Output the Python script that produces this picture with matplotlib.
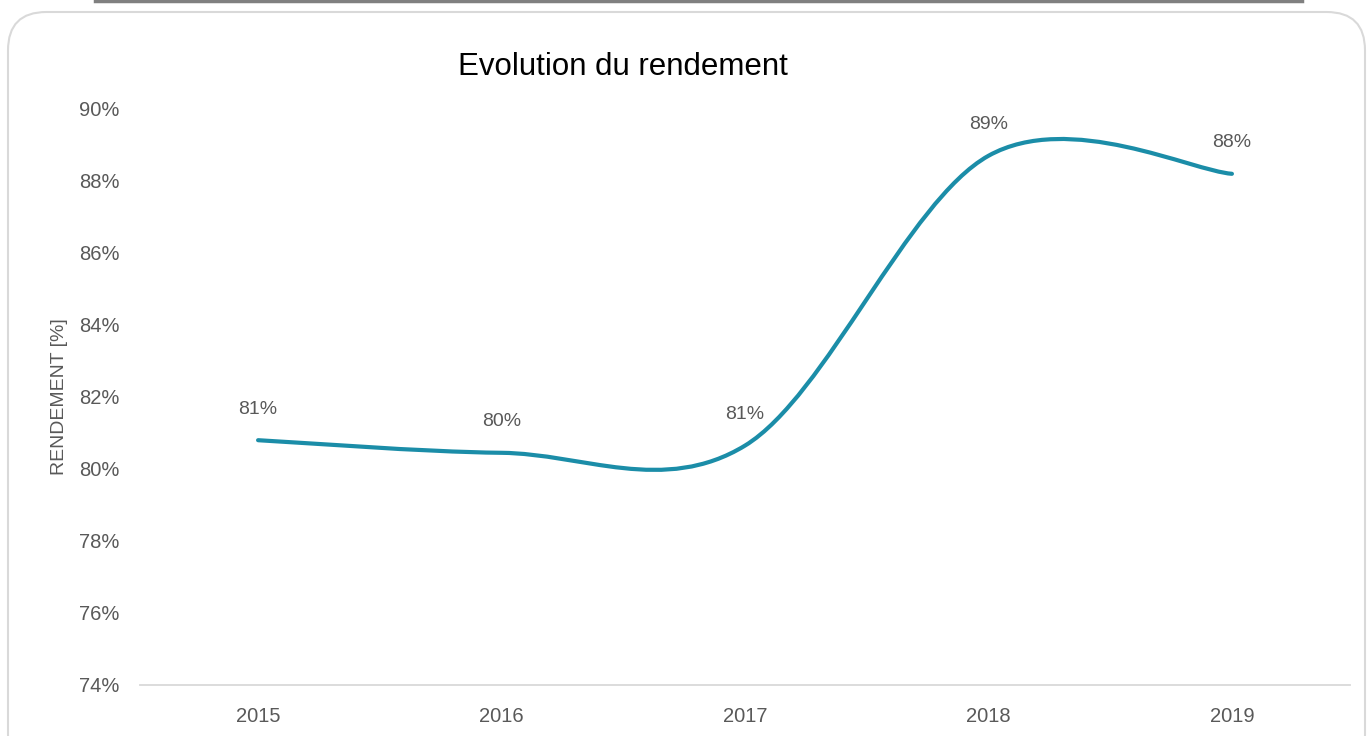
import numpy as np
import matplotlib
matplotlib.use('Agg')
import matplotlib.pyplot as plt
from matplotlib.path import Path
from matplotlib.patches import PathPatch, FancyBboxPatch
from matplotlib.lines import Line2D

plt.rcParams['font.family'] = ['Liberation Sans', 'DejaVu Sans']

# data
years = ['2015', '2016', '2017', '2018', '2019']
rendement = [80.8, 80.45, 80.65, 88.7, 88.2]
labels = ['81%', '80%', '81%', '89%', '88%']
yticks = [74, 76, 78, 80, 82, 84, 86, 88, 90]

fig = plt.figure(figsize=(13.7, 7.36), dpi=100)
ax = fig.add_axes([140 / 1370, 1 - 685 / 736, 1210 / 1370, 576 / 736])

# excel style smoothed line (bezier through the points)
x = np.arange(len(years), dtype=float)
y = np.array(rendement)
pts = np.column_stack([x, y])
ext = np.vstack([pts[0], pts, pts[-1]])
verts = [tuple(pts[0])]
codes = [Path.MOVETO]
for i in range(len(pts) - 1):
    p0, p1, p2, p3 = ext[i], ext[i + 1], ext[i + 2], ext[i + 3]
    c1 = p1 + (p2 - p0) / 6
    c2 = p2 - (p3 - p1) / 6
    verts += [tuple(c1), tuple(c2), tuple(p2)]
    codes += [Path.CURVE4] * 3
ax.add_patch(PathPatch(Path(verts, codes), facecolor='none', edgecolor='#1B8DA8',
                       linewidth=3, capstyle='round'))

for xi, yi, lab in zip(x, y, labels):
    ax.annotate(lab, (xi, yi), xytext=(0, 31), textcoords='offset pixels',
                ha='center', va='center', fontsize=14, color='#595959')

ax.set_xlim(-0.485, len(years) - 1 + 0.485)
ax.set_ylim(74, 90)
ax.set_xticks(x)
ax.set_xticklabels(years)
ax.set_yticks(yticks)
ax.set_yticklabels([f'{t}%' for t in yticks])
ax.tick_params(axis='both', length=0, labelsize=14.5, labelcolor='#595959')
ax.tick_params(axis='y', pad=15)
ax.tick_params(axis='x', pad=16)
for s in ['top', 'right', 'left']:
    ax.spines[s].set_visible(False)
ax.spines['bottom'].set_color('#d9d9d9')
ax.spines['bottom'].set_linewidth(1.3)

ax.set_ylabel('RENDEMENT [%]', fontsize=14, color='#595959', labelpad=8)
fig.text(623 / 1370, 1 - 67 / 736, 'Evolution du rendement', ha='center', va='center',
         fontsize=22.5, color='black')

# chart frame and the line above it
fig.patches.append(FancyBboxPatch((8 / 1370, -0.05), 1357 / 1370, 1.05 - 12 / 736,
                                  boxstyle='round,pad=0,rounding_size=0.028',
                                  transform=fig.transFigure, facecolor='none',
                                  edgecolor='#d9d9d9', linewidth=1.5, mutation_aspect=1370 / 736))
fig.lines.append(Line2D([95 / 1370, 1302 / 1370], [1 - 1 / 736, 1 - 1 / 736],
                        transform=fig.transFigure, color='#808080', linewidth=2.5))

fig.savefig('out.png', dpi=100)
